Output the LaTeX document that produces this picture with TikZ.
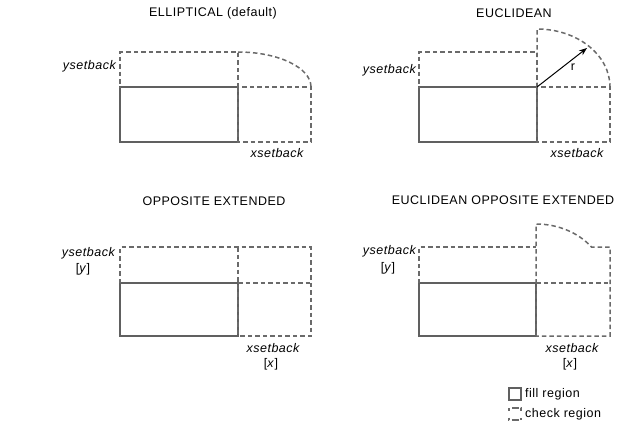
\documentclass[tikz,border=0pt]{standalone}
\usepackage{fontspec}
\setmainfont{Liberation Sans}[LetterSpace=4]
\usetikzlibrary{arrows.meta}
\definecolor{fillgray}{HTML}{606060}
\definecolor{chkgray}{HTML}{6A6A6A}
\tikzset{
  fillreg/.style={draw=fillgray, line width=1.5pt},
  chkreg/.style={draw=chkgray, line width=1.5pt, dash pattern=on 4.5pt off 3pt},
  ttl/.style={font=\fontsize{12.5}{14}\selectfont, inner sep=0pt},
  lbl/.style={font=\fontsize{12.5}{14}\selectfont\itshape, inner sep=0pt},
  brk/.style={font=\fontsize{12.5}{14}\selectfont, inner sep=0pt},
  legtxt/.style={font=\fontsize{12.5}{14}\selectfont, inner sep=0pt, anchor=west},
}
\begin{document}
\begin{tikzpicture}[x=1pt,y=-1pt]
\useasboundingbox (0,0) rectangle (626,429);

% ---------- Panel 1: ELLIPTICAL ----------
\node[ttl] (t1) at (213,13) {ELLIPTICAL (default)};
\draw[fillreg] (120,87) rectangle (238,142);
\draw[chkreg] (238,87) -- (238,52) -- (120,52) -- (120,87);
\draw[chkreg] (238,87) rectangle (311,142);
\draw[chkreg] (238,52) arc[start angle=90, end angle=0, x radius=73pt, y radius=35pt];
\node[lbl, anchor=east] (y1) at (116,66) {ysetback};
\node[lbl] (x1) at (277,153) {xsetback};

% ---------- Panel 2: EUCLIDEAN ----------
\node[ttl] (t2) at (514,13) {EUCLIDEAN};
\draw[fillreg] (419,87) rectangle (537,142);
\draw[chkreg] (537,87) -- (537,52) -- (419,52) -- (419,87);
\draw[chkreg] (537,87) rectangle (610,142);
\draw[chkreg] (537,87) -- (537,29) arc[start angle=90, end angle=0, x radius=73pt, y radius=58pt];
\coordinate (c2) at (537,87);
\coordinate (r2) at (587,48);
\draw[-{Stealth[length=8pt,width=6pt]}, line width=1pt, black] (c2) -- (r2);
\node[brk] (r) at (573,67) {r};
\node[lbl, anchor=east] (y2) at (416,70) {ysetback};
\node[lbl] (x2) at (577,153) {xsetback};

% ---------- Panel 3: OPPOSITE EXTENDED ----------
\node[ttl] (t3) at (214,201) {OPPOSITE EXTENDED};
\draw[fillreg] (120,283) rectangle (238,336);
\draw[chkreg] (120,283) -- (120,247) -- (311,247) -- (311,336) -- (238,336);
\draw[chkreg] (238,247) -- (238,336);
\draw[chkreg] (238,283) -- (311,283);
\node[lbl, anchor=east] (y3) at (115,253) {ysetback};
\node[brk] (yb3) at (83,269) {[\textit{y}]};
\node[lbl] (x3) at (273,348) {xsetback};
\node[brk] (xb3) at (271,364) {[\textit{x}]};

% ---------- Panel 4: EUCLIDEAN OPPOSITE EXTENDED ----------
\node[ttl] (t4) at (503,200) {EUCLIDEAN OPPOSITE EXTENDED};
\draw[fillreg] (419,283) rectangle (536,336);
\draw[chkreg] (419,283) -- (419,247) -- (536,247);
\draw[chkreg] (536,336) -- (536,224) arc[start angle=90, end angle=37.6, x radius=70pt, y radius=59pt] -- (610,247) -- (610,336) -- (536,336);
\draw[chkreg] (536,283) -- (610,283);
\node[lbl, anchor=east] (y4) at (416,251) {ysetback};
\node[brk] (yb4) at (388,268) {[\textit{y}]};
\node[lbl] (x4) at (572,348) {xsetback};
\node[brk] (xb4) at (570,364) {[\textit{x}]};

% ---------- Legend ----------
\draw[draw=fillgray, line width=1.3pt] (509,388) rectangle (521,400);
\node[legtxt] (lf) at (525,394) {fill region};
\draw[draw=chkgray, line width=1.3pt, dash pattern=on 2.5pt off 7pt on 2.5pt] (509,408) rectangle (521,420);
\node[legtxt] (lc) at (525,414) {check region};
\end{tikzpicture}
\end{document}
